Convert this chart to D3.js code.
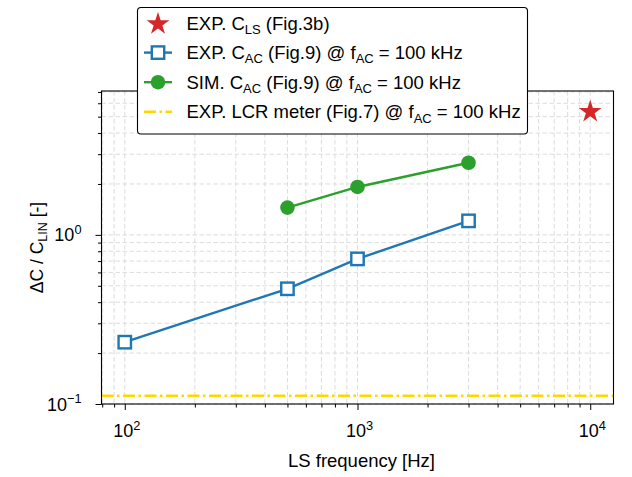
<!DOCTYPE html>
<html><head><meta charset="utf-8">
<script src="https://cdn.jsdelivr.net/npm/d3@7"></script>
<style>body{margin:0;background:#fff}svg{display:block}text{font-family:"Liberation Sans",Arial,sans-serif}</style>
</head><body>
<script>
const expFreq = [100, 500, 1000, 3000];
const expCac = [0.232, 0.48, 0.721, 1.21];
const simFreq = [500, 1000, 3000];
const simCac = [1.45, 1.92, 2.67];
const clsFreq = [10000];
const clsVal = [5.42];
const lcrVal = 0.112;
const xTicks = [100, 1000, 10000];
const xTickExp = ["2", "3", "4"];
const yTicks = [0.1, 1];
const yTickExp = ["\u22121", "0"];

const W = 632, H = 477;
const FS = 18.5, SS = 13, TS = 18, TSS = 12.8;
const m = {l: 101.5, r: 18.5, t: 91, b: 73};
const svg = d3.select("body").append("svg").attr("width", W).attr("height", H);
const x = d3.scaleLog().domain([Math.pow(10,1.9), Math.pow(10,4.1)]).range([m.l, W - m.r]);
const y = d3.scaleLog().domain([0.1, 7.09]).range([H - m.b, m.t]);

// minor ticks
const xMinor = [], yMinor = [];
for (let d = 10; d <= 10000; d *= 10) for (let k = 2; k <= 9; k++) { const v = d*k; if (v >= x.domain()[0] && v <= x.domain()[1]) xMinor.push(v); }
for (let d = 0.1; d <= 1; d *= 10) for (let k = 2; k <= 9; k++) { const v = d*k; if (v >= y.domain()[0] && v <= y.domain()[1]) yMinor.push(v); }

const g = svg.append("g");
// grid
const gridStyle = s => s.attr("stroke", "#dcdcdc").attr("stroke-width", 1).attr("stroke-dasharray", "4.5,2.5");
gridStyle(g.selectAll(".gx").data(xTicks.concat(xMinor)).join("line")
  .attr("x1", d => x(d)).attr("x2", d => x(d)).attr("y1", m.t).attr("y2", H - m.b));
gridStyle(g.selectAll(".gy").data(yTicks.concat(yMinor)).join("line")
  .attr("y1", d => y(d)).attr("y2", d => y(d)).attr("x1", m.l).attr("x2", W - m.r));

// axes
const xAxis = d3.axisBottom(x).tickValues(xTicks).tickSize(6).tickFormat("");
const xAxisMinor = d3.axisBottom(x).tickValues(xMinor).tickSize(3.5).tickFormat("");
const yAxis = d3.axisLeft(y).tickValues(yTicks).tickSize(6).tickFormat("");
const yAxisMinor = d3.axisLeft(y).tickValues(yMinor).tickSize(3.5).tickFormat("");
const styleAx = a => { a.select(".domain").remove(); a.selectAll("line").attr("stroke", "#000").attr("stroke-width", 1); };
svg.append("g").attr("transform", `translate(0,${H - m.b})`).call(xAxis).call(styleAx);
svg.append("g").attr("transform", `translate(0,${H - m.b})`).call(xAxisMinor).call(styleAx);
svg.append("g").attr("transform", `translate(${m.l},0)`).call(yAxis).call(styleAx);
svg.append("g").attr("transform", `translate(${m.l},0)`).call(yAxisMinor).call(styleAx);

// tick labels
xTicks.forEach((v, i) => {
  const t = svg.append("text").attr("x", x(v) + 2).attr("y", H - m.b + 33).attr("text-anchor", "middle").attr("font-size", TS);
  t.append("tspan").text("10");
  t.append("tspan").attr("dy", -7.5).attr("font-size", TSS).text(xTickExp[i]);
});
yTicks.forEach((v, i) => {
  const t = svg.append("text").attr("x", m.l - 20).attr("y", y(v) + 6.5).attr("text-anchor", "end").attr("font-size", TS);
  t.append("tspan").text("10");
  t.append("tspan").attr("dy", -7.5).attr("font-size", TSS).text(yTickExp[i]);
});

// axis labels
svg.append("text").attr("x", (m.l + W - m.r)/2 + 4).attr("y", 467).attr("text-anchor", "middle").attr("font-size", FS).text("LS frequency [Hz]");
const yl = svg.append("text").attr("transform", `translate(43,${(m.t + H - m.b)/2}) rotate(-90)`).attr("text-anchor", "middle").attr("font-size", 17.5);
yl.append("tspan").text("\u0394C / C");
yl.append("tspan").attr("dy", 4).attr("font-size", 12.5).text("LIN");
yl.append("tspan").attr("dy", -4).text(" [-]");

// clip
svg.append("clipPath").attr("id", "clip").append("rect").attr("x", m.l).attr("y", m.t).attr("width", W - m.l - m.r).attr("height", H - m.t - m.b);
const pg = svg.append("g").attr("clip-path", "url(#clip)");

// LCR line
pg.append("line").attr("x1", m.l).attr("x2", W - m.r).attr("y1", y(lcrVal)).attr("y2", y(lcrVal))
  .attr("stroke", "#FFD700").attr("stroke-width", 2.4).attr("stroke-dasharray", "12,3.5,2.5,3.5");

const line = d3.line().x(d => x(d[0])).y(d => y(d[1]));
// SIM green
const simData = simFreq.map((f, i) => [f, simCac[i]]);
pg.append("path").datum(simData).attr("d", line).attr("fill", "none").attr("stroke", "#2ca02c").attr("stroke-width", 2.4);
pg.selectAll(".sc").data(simData).join("circle").attr("cx", d => x(d[0])).attr("cy", d => y(d[1])).attr("r", 7.3).attr("fill", "#2ca02c");
// EXP blue
const expData = expFreq.map((f, i) => [f, expCac[i]]);
pg.append("path").datum(expData).attr("d", line).attr("fill", "none").attr("stroke", "#1f77b4").attr("stroke-width", 2.4);
pg.selectAll(".sq").data(expData).join("rect").attr("x", d => x(d[0]) - 6.2).attr("y", d => y(d[1]) - 6.2).attr("width", 12.4).attr("height", 12.4)
  .attr("fill", "#fff").attr("stroke", "#1f77b4").attr("stroke-width", 2.4);
// star
const star = d3.symbol().type(d3.symbolStar).size(160);
const clsData = clsFreq.map((f, i) => [f, clsVal[i]]);
pg.selectAll(".st").data(clsData).join("path").attr("d", star).attr("transform", d => `translate(${x(d[0])},${y(d[1]) + 1})`).attr("fill", "#d62728");

// frame
svg.append("rect").attr("x", m.l).attr("y", m.t).attr("width", W - m.l - m.r).attr("height", H - m.t - m.b)
  .attr("fill", "none").attr("stroke", "#000").attr("stroke-width", 1.1);

// legend
const lg = svg.append("g");
lg.append("rect").attr("x", 137.5).attr("y", 7.5).attr("width", 390).attr("height", 126.5).attr("rx", 3.5)
  .attr("fill", "#fff").attr("stroke", "#000").attr("stroke-width", 1.1);
const ly = [23, 52.6, 82.2, 111.8];
const hx1 = 144, hx2 = 172, tx = 186.5;
lg.append("path").attr("d", star).attr("transform", `translate(${(hx1+hx2)/2},${ly[0] + 1})`).attr("fill", "#d62728");
lg.append("line").attr("x1", hx1).attr("x2", hx2).attr("y1", ly[1]).attr("y2", ly[1]).attr("stroke", "#1f77b4").attr("stroke-width", 2.4);
lg.append("rect").attr("x", (hx1+hx2)/2 - 6.2).attr("y", ly[1] - 6.2).attr("width", 12.4).attr("height", 12.4).attr("fill", "#fff").attr("stroke", "#1f77b4").attr("stroke-width", 2.4);
lg.append("line").attr("x1", hx1).attr("x2", hx2).attr("y1", ly[2]).attr("y2", ly[2]).attr("stroke", "#2ca02c").attr("stroke-width", 2.4);
lg.append("circle").attr("cx", (hx1+hx2)/2).attr("cy", ly[2]).attr("r", 7.3).attr("fill", "#2ca02c");
lg.append("line").attr("x1", hx1).attr("x2", hx2).attr("y1", ly[3]).attr("y2", ly[3]).attr("stroke", "#FFD700").attr("stroke-width", 2.4).attr("stroke-dasharray", "12,3.5,2.5,3.5");

const labels = [
  [["EXP. C", 0], ["LS", 1], [" (Fig.3b)", 0]],
  [["EXP. C", 0], ["AC", 1], [" (Fig.9) @ f", 0], ["AC", 1], [" = 100 kHz", 0]],
  [["SIM. C", 0], ["AC", 1], [" (Fig.9) @ f", 0], ["AC", 1], [" = 100 kHz", 0]],
  [["EXP. LCR meter (Fig.7) @ f", 0], ["AC", 1], [" = 100 kHz", 0]]
];
labels.forEach((parts, i) => {
  const t = lg.append("text").attr("x", tx).attr("y", ly[i] + 6.5).attr("font-size", FS);
  let prev = 0;
  parts.forEach(([s, sub]) => {
    const dy = (sub ? 4.2 : 0) - (prev ? 4.2 : 0);
    t.append("tspan").attr("dy", dy).attr("font-size", sub ? SS : FS).text(s);
    prev = sub;
  });
});
</script>
</body></html>
